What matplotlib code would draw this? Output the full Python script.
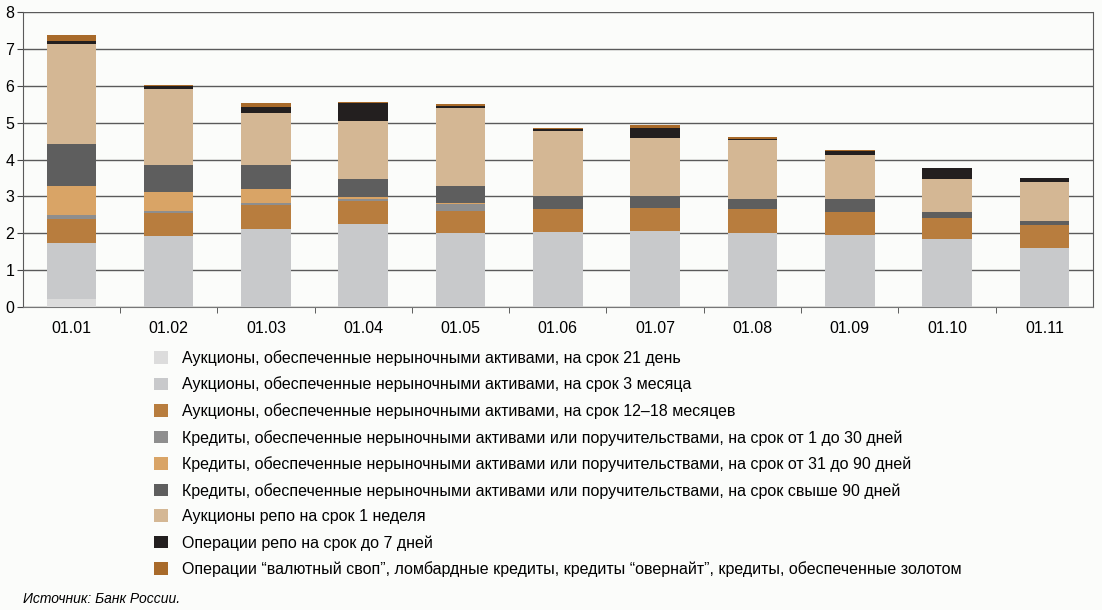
import numpy as np
import matplotlib
matplotlib.use("Agg")
import matplotlib.pyplot as plt

plt.rcParams['font.family'] = ['Liberation Sans', 'DejaVu Sans']

# Données (трлн руб.)
dates = ["01.01", "01.02", "01.03", "01.04", "01.05", "01.06",
         "01.07", "01.08", "01.09", "01.10", "01.11"]

auc_21d = [0.22, 0, 0, 0, 0, 0, 0, 0, 0, 0, 0]
auc_3m = [1.50, 1.92, 2.12, 2.25, 2.01, 2.03, 2.06, 1.99, 1.96, 1.83, 1.60]
auc_12_18m = [0.65, 0.63, 0.64, 0.63, 0.60, 0.62, 0.62, 0.66, 0.62, 0.59, 0.62]
cred_1_30 = [0.12, 0.06, 0.05, 0.04, 0.17, 0, 0, 0, 0, 0, 0]
cred_31_90 = [0.80, 0.51, 0.40, 0.05, 0.03, 0, 0, 0, 0, 0, 0]
cred_90plus = [1.13, 0.72, 0.63, 0.50, 0.46, 0.35, 0.34, 0.28, 0.34, 0.15, 0.11]
repo_1w = [2.72, 2.07, 1.42, 1.58, 2.12, 1.78, 1.56, 1.60, 1.21, 0.89, 1.07]
repo_7d = [0.09, 0.08, 0.16, 0.48, 0.06, 0.06, 0.28, 0.04, 0.11, 0.30, 0.11]
other = [0.16, 0.03, 0.11, 0.02, 0.06, 0.02, 0.08, 0.03, 0.01, 0.02, 0.0]

labels = [
    "Аукционы, обеспеченные нерыночными активами, на срок 21 день",
    "Аукционы, обеспеченные нерыночными активами, на срок 3 месяца",
    "Аукционы, обеспеченные нерыночными активами, на срок 12–18 месяцев",
    "Кредиты, обеспеченные нерыночными активами или поручительствами, на срок от 1 до 30 дней",
    "Кредиты, обеспеченные нерыночными активами или поручительствами, на срок от 31 до 90 дней",
    "Кредиты, обеспеченные нерыночными активами или поручительствами, на срок свыше 90 дней",
    "Аукционы репо на срок 1 неделя",
    "Операции репо на срок до 7 дней",
    "Операции “валютный своп”, ломбардные кредиты, кредиты “овернайт”, кредиты, обеспеченные золотом",
]
series = [auc_21d, auc_3m, auc_12_18m, cred_1_30, cred_31_90,
          cred_90plus, repo_1w, repo_7d, other]
colors = ['#dcdcdc', '#c8c9cb', '#b87d3e', '#8e8e8e', '#d9a466',
          '#5e5e5e', '#d4b794', '#231f1f', '#a86a2a']

fig = plt.figure(figsize=(11.02, 6.10), dpi=100, facecolor='#fbfcfa')
ax = fig.add_axes([0.0206, 0.4972, 0.9712, 0.4826], facecolor='#fbfcfa')

x = np.arange(len(dates))
bottom = np.zeros(len(dates))
handles = []
for vals, col, lab in zip(series, colors, labels):
    b = ax.bar(x, vals, width=0.51, bottom=bottom, color=col,
               edgecolor='none', label=lab, zorder=3)
    handles.append(b)
    bottom += np.array(vals)

ax.set_xlim(-0.5, len(dates) - 0.5)
ax.set_ylim(0, 8)
ax.set_yticks(range(0, 9))
ax.yaxis.grid(True, color='#5a5a5a', linewidth=1, zorder=0)
ax.set_xticks(x)
ax.set_xticklabels(dates, fontsize=11.5)
ax.set_xticks(np.arange(0.5, len(dates) - 0.5), minor=True)
ax.tick_params(axis='x', which='major', length=0, pad=10)
ax.tick_params(axis='x', which='minor', length=4, direction='out', color='#444444')
ax.tick_params(axis='y', length=4, direction='out', labelsize=11.5, pad=2, color='#444444')
for s in ['left', 'right', 'top']:
    ax.spines[s].set_color('#5a5a5a')
ax.spines['top'].set_visible(False)
ax.spines['bottom'].set_color('#777777')
ax.spines['bottom'].set_linestyle((0, (1, 1)))

fig.legend(handles=handles, labels=labels, loc='upper left',
           bbox_to_anchor=(0.1397, 0.426), frameon=False, fontsize=11.5,
           handlelength=0.85, handleheight=0.85, handletextpad=0.9,
           labelspacing=0.67, borderaxespad=0, borderpad=0)

fig.text(0.021, 0.012, "Источник: Банк России.", fontsize=10, style='italic')

fig.savefig("out.png", dpi=100, facecolor=fig.get_facecolor())
